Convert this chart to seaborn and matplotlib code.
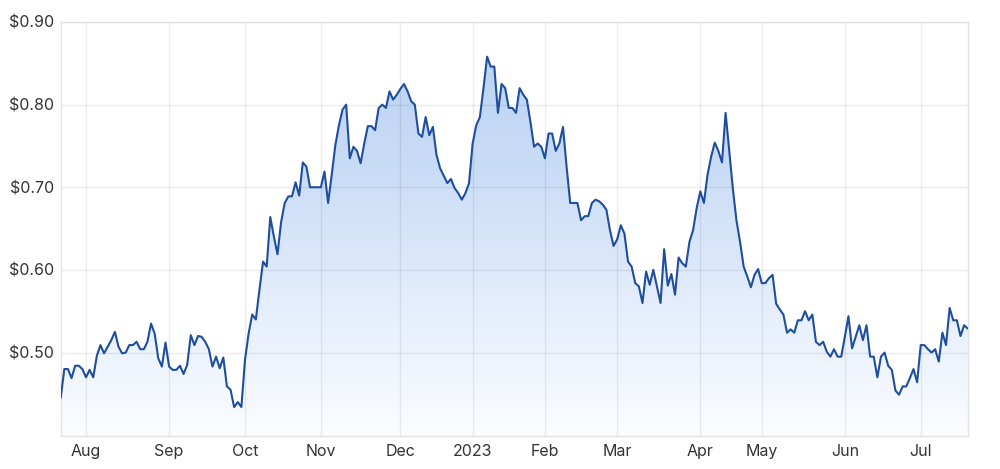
import numpy as np
import pandas as pd
import seaborn as sns
import matplotlib.pyplot as plt
from matplotlib.colors import LinearSegmentedColormap
from matplotlib.patches import Polygon
from matplotlib.ticker import FuncFormatter

# trading days (ASX calendar), one year of closes
start_date = "2022-07-21"
end_date = "2023-07-20"
asx_holidays = ["2022-09-22", "2022-12-26", "2022-12-27", "2023-01-02", "2023-01-26",
                "2023-04-07", "2023-04-10", "2023-04-25", "2023-06-12"]

prices = [
    0.445, 0.480, 0.480, 0.469, 0.484, 0.484, 0.480, 0.470, 0.479, 0.470,
    0.496, 0.509, 0.499, 0.507, 0.515, 0.525, 0.507, 0.499, 0.500, 0.509,
    0.509, 0.513, 0.504, 0.504, 0.513, 0.535, 0.523, 0.493, 0.483, 0.512,
    0.483, 0.479, 0.479, 0.484, 0.474, 0.485, 0.521, 0.509, 0.520, 0.519,
    0.513, 0.504, 0.483, 0.495, 0.481, 0.494, 0.459, 0.455, 0.434, 0.440,
    0.434, 0.491, 0.523, 0.546, 0.540, 0.576, 0.610, 0.604, 0.664, 0.640,
    0.619, 0.658, 0.681, 0.689, 0.689, 0.706, 0.690, 0.730, 0.725, 0.700,
    0.700, 0.700, 0.700, 0.719, 0.681, 0.715, 0.751, 0.775, 0.794, 0.800,
    0.735, 0.749, 0.744, 0.729, 0.753, 0.774, 0.774, 0.769, 0.796, 0.800,
    0.796, 0.816, 0.806, 0.812, 0.819, 0.825, 0.816, 0.804, 0.800, 0.765,
    0.761, 0.785, 0.763, 0.773, 0.739, 0.723, 0.714, 0.705, 0.710, 0.699,
    0.693, 0.685, 0.693, 0.705, 0.753, 0.775, 0.785, 0.820, 0.858, 0.846,
    0.846, 0.790, 0.825, 0.820, 0.796, 0.796, 0.790, 0.820, 0.812, 0.806,
    0.779, 0.749, 0.753, 0.749, 0.735, 0.765, 0.765, 0.744, 0.753, 0.773,
    0.725, 0.681, 0.681, 0.681, 0.660, 0.665, 0.665, 0.681, 0.685, 0.683,
    0.679, 0.673, 0.648, 0.629, 0.637, 0.654, 0.644, 0.610, 0.604, 0.584,
    0.580, 0.560, 0.598, 0.582, 0.600, 0.580, 0.560, 0.625, 0.581, 0.595,
    0.570, 0.615, 0.608, 0.604, 0.634, 0.648, 0.675, 0.695, 0.681, 0.715,
    0.737, 0.754, 0.744, 0.730, 0.790, 0.745, 0.699, 0.660, 0.634, 0.604,
    0.592, 0.579, 0.594, 0.601, 0.584, 0.584, 0.590, 0.594, 0.559, 0.552,
    0.546, 0.524, 0.528, 0.524, 0.539, 0.539, 0.550, 0.539, 0.546, 0.513,
    0.509, 0.513, 0.501, 0.495, 0.504, 0.495, 0.495, 0.519, 0.544, 0.505,
    0.519, 0.533, 0.515, 0.533, 0.495, 0.495, 0.470, 0.495, 0.500, 0.484,
    0.479, 0.454, 0.449, 0.459, 0.459, 0.469, 0.480, 0.464, 0.509, 0.509,
    0.504, 0.500, 0.504, 0.489, 0.524, 0.509, 0.554, 0.539, 0.539, 0.520,
    0.533, 0.529,
]

y_ticks = [0.50, 0.60, 0.70, 0.80, 0.90]
y_range = (0.399, 0.90)

dates = pd.bdate_range(start_date, end_date)
dates = dates[~dates.isin(pd.to_datetime(asx_holidays))]
df = pd.DataFrame({"date": dates, "price": prices})
df["pos"] = np.arange(len(df))
n = len(df)

sns.set_theme(style="white")
plt.rcParams["font.family"] = ["Inter", "DejaVu Sans"]

fig = plt.figure(figsize=(10, 4.69), dpi=100)
ax = fig.add_axes([0.0607, 0.0704, 0.907, 0.8827])

# gradient fill under the line: pale at the bottom, light blue at the top
cmap = LinearSegmentedColormap.from_list(
    "fill", [(0.0, "#fbfdff"), (0.35, "#e2ecfb"), (0.65, "#c9dcf6"), (1.0, "#b8d0f2")])
grad = np.linspace(0, 1, 256).reshape(-1, 1)
im = ax.imshow(grad, extent=[0, n - 1, y_range[0], y_range[1]], origin="lower",
               aspect="auto", cmap=cmap, zorder=1)
verts = [(0, y_range[0])] + list(zip(df["pos"], df["price"])) + [(n - 1, y_range[0])]
clip = Polygon(verts, closed=True, facecolor="none", edgecolor="none", transform=ax.transData)
ax.add_patch(clip)
im.set_clip_path(clip)

sns.lineplot(data=df, x="pos", y="price", color="#1f4e9e", linewidth=1.5, ax=ax, zorder=3)

ax.set_xlim(0, n - 1)
ax.set_ylim(*y_range)

# month ticks at the first trading day of each month
firsts = df.groupby(df["date"].dt.to_period("M"))["pos"].first().iloc[1:]
labels = [str(p.year) if p.month == 1 else p.strftime("%b") for p in firsts.index]
ax.set_xticks(firsts.values)
ax.set_xticklabels(labels)
ax.set_yticks(y_ticks)
ax.yaxis.set_major_formatter(FuncFormatter(lambda v, _: f"${v:.2f}"))

# translucent grid so it reads slightly darker over the fill too
ax.set_axisbelow("line")
ax.grid(True, color="black", alpha=0.075, linewidth=1)
for s in ax.spines.values():
    s.set_color("#e2e2e2")
    s.set_linewidth(1)

ax.tick_params(axis="both", length=0, labelsize=11.5, labelcolor="#333333")
ax.tick_params(axis="x", pad=6)
ax.tick_params(axis="y", pad=5)
ax.set_xlabel("")
ax.set_ylabel("")

fig.savefig("out.png", dpi=100)
